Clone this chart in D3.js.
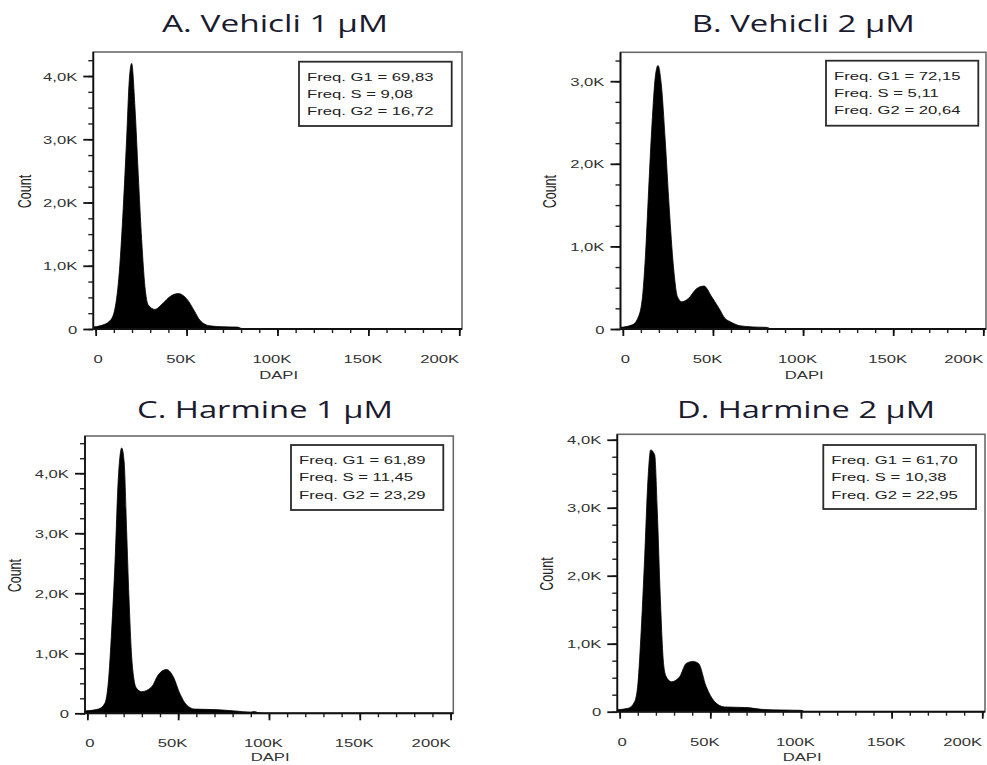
<!DOCTYPE html>
<html>
<head>
<meta charset="utf-8">
<script src="https://cdn.jsdelivr.net/npm/d3@7"></script>
<style>
  html, body { margin: 0; padding: 0; background: #fff; }
  svg { display: block; }
  text { font-family: "Liberation Sans", Arial, sans-serif; }
</style>
</head>
<body>
<svg id="chart" width="987" height="765"></svg>
<script>
// ---------------- DATA ----------------
const panelTitles = ["A. Vehicli 1 µM", "B. Vehicli 2 µM", "C. Harmine 1 µM", "D. Harmine 2 µM"];
const freqG1 = ["69,83", "72,15", "61,89", "61,70"];
const freqS  = ["9,08", "5,11", "11,45", "10,38"];
const freqG2 = ["16,72", "20,64", "23,29", "22,95"];

const xTickValues = [0, 50, 100, 150, 200];          // DAPI, thousands
const xTickLabels = ["0", "50K", "100K", "150K", "200K"];
const yTickLabels = ["0", "1,0K", "2,0K", "3,0K", "4,0K"];
const yMajorCount = [5, 4, 5, 5];                    // number of major y ticks per panel
const yAxisMax = [4.38, 3.35, 4.62, 4.08];           // Count (thousands) at top of plot
const xAxisMin = -1.3, xAxisMax = 201.5;

// Histogram outlines (DAPI in K, Count in K)
const dapiA  = [-1.3, 2.4, 7.9, 10.6, 13, 15.2, 17, 18.5, 19.8, 21.6, 23.4, 25.3, 27.1, 28.9, 32.6, 37.1, 40.8, 45.4, 50, 54.6, 57.3, 62.8, 70, 78, 80, 82];
const countA = [0.03, 0.05, 0.13, 0.32, 0.9, 1.93, 2.99, 3.94, 4.2, 3.51, 2.46, 1.41, 0.67, 0.38, 0.31, 0.41, 0.51, 0.56, 0.48, 0.27, 0.14, 0.05, 0.035, 0.03, 0.01, 0];

const dapiB  = [-1.3, 5.2, 8.3, 10.7, 12.5, 14.3, 16.2, 18, 19.5, 21.3, 23.5, 25.7, 28.1, 30.3, 32.7, 36.4, 41, 45, 49.3, 53.9, 56.6, 59.4, 64.9, 72, 79.6, 82];
const countB = [0.02, 0.05, 0.13, 0.35, 0.87, 1.68, 2.49, 3.05, 3.19, 2.97, 2.29, 1.48, 0.75, 0.39, 0.33, 0.37, 0.49, 0.52, 0.39, 0.23, 0.13, 0.09, 0.04, 0.025, 0.02, 0];

const dapiC  = [-1.3, 6, 9.7, 11.5, 13.4, 15.2, 17, 18.9, 20.3, 21.6, 22.9, 24.4, 25.4, 27, 29.9, 35.4, 39, 43.6, 47.3, 50.9, 54.6, 59.2, 72, 81, 90, 92, 94, 96];
const countC = [0.04, 0.07, 0.17, 0.5, 1.39, 2.5, 3.89, 4.42, 4.17, 3.06, 1.94, 0.94, 0.62, 0.42, 0.36, 0.44, 0.64, 0.73, 0.61, 0.33, 0.14, 0.07, 0.06, 0.04, 0.02, 0.03, 0.01, 0];

const dapiD  = [-1.3, 4.6, 8.3, 10.1, 11.9, 13.8, 15.6, 17.1, 19.3, 20.8, 22.4, 24.2, 25.6, 28.5, 33, 36.7, 40.4, 43.5, 47.7, 52.3, 57.8, 70.6, 78, 90, 100, 102];
const countD = [0.03, 0.05, 0.15, 0.42, 1.2, 2.28, 3.41, 3.85, 3.78, 2.92, 1.69, 0.71, 0.52, 0.44, 0.51, 0.71, 0.74, 0.71, 0.37, 0.15, 0.07, 0.06, 0.035, 0.025, 0.02, 0];

const dapiSeries  = [dapiA, dapiB, dapiC, dapiD];
const countSeries = [countA, countB, countC, countD];

// ---------------- LAYOUT ----------------
const layout = [
  { l: 93.3,  t: 52,    r: 462,   b: 329,   title: [275, 31.7, 226], legend: [299, 61.7, 152.7, 64.3], countX: 26.7 },
  { l: 620.5, t: 52.3,  r: 986,   b: 329,   title: [803.3, 32, 223], legend: [826, 60.7, 152.3, 65], countX: 551.7 },
  { l: 85,    t: 436,   r: 453.3, b: 713.3, title: [265, 418.3, 256], legend: [291, 445, 152.3, 65], countX: 16.7 },
  { l: 617.3, t: 434.3, r: 985,   b: 711.7, title: [806, 418.3, 258], legend: [823.3, 445, 152.7, 64], countX: 549.3 }
];
const SX = 1.45; // horizontal stretch of the original figure's text

const svg = d3.select("#chart");

layout.forEach((L, i) => {
  const g = svg.append("g");
  const x = d3.scaleLinear().domain([xAxisMin, xAxisMax]).range([L.l, L.r]);
  const y = d3.scaleLinear().domain([0, yAxisMax[i]]).range([L.b, L.t]);

  // clip
  const clipId = "clip" + i;
  svg.append("clipPath").attr("id", clipId).append("rect")
    .attr("x", L.l).attr("y", L.t).attr("width", L.r - L.l).attr("height", L.b - L.t);

  // frame
  g.append("rect").attr("x", L.l).attr("y", L.t).attr("width", L.r - L.l).attr("height", L.b - L.t)
    .attr("fill", "none").attr("stroke", "#6a6a6a").attr("stroke-width", 1.6);

  // histogram
  const pts = dapiSeries[i].map((d, k) => [d, countSeries[i][k]]);
  const area = d3.area().curve(d3.curveMonotoneX)
    .x(d => x(d[0])).y0(y(0)).y1(d => y(d[1]));
  g.append("path").datum(pts).attr("d", area).attr("fill", "#000")
    .attr("stroke", "#000").attr("stroke-width", 0.8).attr("clip-path", `url(#${clipId})`);

  // y axis: minor ticks
  const yMinor = d3.range(0, yAxisMax[i] + 1e-9, 0.25);
  g.append("g").attr("transform", `translate(${L.l},0)`)
    .call(d3.axisLeft(y).tickValues(yMinor).tickSize(5).tickFormat(""))
    .call(s => { s.select(".domain").remove(); s.selectAll("line").attr("stroke", "#222").attr("stroke-width", 1.4); });
  // y axis: major ticks
  const yMajor = d3.range(yMajorCount[i]);
  g.append("g").attr("transform", `translate(${L.l},0)`)
    .call(d3.axisLeft(y).tickValues(yMajor).tickSize(10).tickFormat(d => yTickLabels[d]))
    .call(s => {
      s.select(".domain").remove();
      s.selectAll("line").attr("stroke", "#111").attr("stroke-width", 1.8);
      s.selectAll("text").attr("x", null).attr("dy", null)
        .attr("transform", `translate(-16,4) scale(${SX},1)`)
        .attr("text-anchor", "end").attr("fill", "#333")
        .style("font-size", "11.5px").style("font-family", "Liberation Sans, Arial, sans-serif");
    });

  // x axis: minor ticks
  g.append("g").attr("transform", `translate(0,${L.b})`)
    .call(d3.axisBottom(x).tickValues(d3.range(0, 201, 10)).tickSize(4).tickFormat(""))
    .call(s => { s.select(".domain").remove(); s.selectAll("line").attr("stroke", "#222").attr("stroke-width", 1.4); });
  // x axis: major ticks
  const xOffsets = [2, -6, -6, -6, -20];
  g.append("g").attr("transform", `translate(0,${L.b})`)
    .call(d3.axisBottom(x).tickValues(xTickValues).tickSize(7).tickFormat((d, k) => xTickLabels[k]))
    .call(s => {
      s.select(".domain").remove();
      s.selectAll("line").attr("stroke", "#111").attr("stroke-width", 1.8);
      s.selectAll("text").attr("y", null).attr("dy", null)
        .attr("transform", (d, k) => `translate(${xOffsets[k]},34) scale(${SX},1)`)
        .attr("text-anchor", "middle").attr("fill", "#333")
        .style("font-size", "11.5px").style("font-family", "Liberation Sans, Arial, sans-serif");
    });

  // axis lines (left and bottom, dark)
  g.append("line").attr("x1", L.l).attr("x2", L.l).attr("y1", L.t).attr("y2", L.b)
    .attr("stroke", "#111").attr("stroke-width", 1.8);
  g.append("line").attr("x1", L.l).attr("x2", L.r).attr("y1", L.b).attr("y2", L.b)
    .attr("stroke", "#111").attr("stroke-width", 2);

  // axis titles
  const dapiY = Math.min(L.b + 50, 760.5);
  g.append("text").attr("transform", `translate(${(L.l + L.r) / 2 + 1},${dapiY}) scale(${SX},1)`)
    .attr("text-anchor", "middle").attr("fill", "#333").style("font-size", "11.5px").text("DAPI");
  g.append("text").attr("transform", `translate(${L.countX + 4},${(L.t + L.b) / 2 + 1}) scale(${SX},1) rotate(-90)`)
    .attr("text-anchor", "middle").attr("fill", "#222").style("font-size", "12.5px").text("Count");

  // panel title
  g.append("text").attr("x", L.title[0]).attr("y", L.title[1])
    .attr("text-anchor", "middle").attr("textLength", L.title[2]).attr("lengthAdjust", "spacingAndGlyphs")
    .attr("fill", "#1b1b2f").style("font-family", "Open Sans, Lato, sans-serif").style("font-size", "23.5px")
    .text(panelTitles[i]);

  // legend box
  const [lx, ly, lw, lh] = L.legend;
  g.append("rect").attr("x", lx).attr("y", ly).attr("width", lw).attr("height", lh)
    .attr("fill", "#fff").attr("stroke", "#2a2a2a").attr("stroke-width", 1.8);
  const lines = [`Freq. G1 = ${freqG1[i]}`, `Freq. S = ${freqS[i]}`, `Freq. G2 = ${freqG2[i]}`];
  lines.forEach((s, k) => {
    g.append("text").attr("transform", `translate(${lx + 8},${ly + 19 + k * 17.3}) scale(${SX},1)`)
      .attr("fill", "#222").style("font-size", "11.5px").text(s);
  });
});
</script>
</body>
</html>
